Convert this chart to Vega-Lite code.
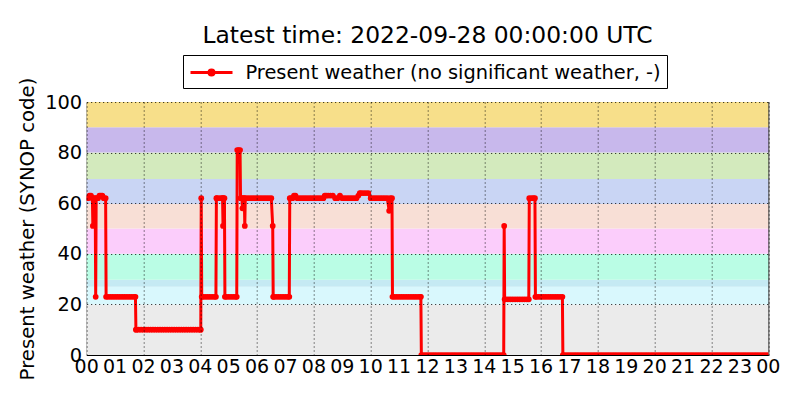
{
  "$schema": "https://vega.github.io/schema/vega-lite/v6.json",
  "autosize": {"type": "none"},
  "width": 681.6,
  "height": 253,
  "padding": {"left": 86.7, "top": 102, "right": 31.7, "bottom": 45},
  "background": "white",
  "config": {
    "font": "DejaVu Sans",
    "view": {"stroke": "black", "strokeWidth": 1},
    "axis": {"labelOverlap": false, "labelFlush": false, "labelBound": false}
  },
  "title": {
    "text": "Latest time: 2022-09-28 00:00:00 UTC",
    "font": "DejaVu Sans",
    "fontSize": 23.4,
    "fontWeight": "normal",
    "color": "black",
    "anchor": "middle",
    "offset": 6
  },
  "datasets": {
    "bands": [
      {"lo": 0, "hi": 20, "b": "a"},
      {"lo": 20, "hi": 27, "b": "b"},
      {"lo": 27, "hi": 29.7, "b": "c"},
      {"lo": 29.7, "hi": 40, "b": "d"},
      {"lo": 40, "hi": 50, "b": "e"},
      {"lo": 50, "hi": 59.7, "b": "f"},
      {"lo": 59.7, "hi": 69.6, "b": "g"},
      {"lo": 69.6, "hi": 80, "b": "h"},
      {"lo": 80, "hi": 90, "b": "i"},
      {"lo": 90, "hi": 100, "b": "j"}
    ],
    "hours": [
      {"t":0,"lab":"00"},{"t":60,"lab":"01"},{"t":120,"lab":"02"},{"t":180,"lab":"03"},{"t":240,"lab":"04"},{"t":300,"lab":"05"},{"t":360,"lab":"06"},{"t":420,"lab":"07"},
      {"t":480,"lab":"08"},{"t":540,"lab":"09"},{"t":600,"lab":"10"},{"t":660,"lab":"11"},{"t":720,"lab":"12"},{"t":780,"lab":"13"},{"t":840,"lab":"14"},{"t":900,"lab":"15"},
      {"t":960,"lab":"16"},{"t":1020,"lab":"17"},{"t":1080,"lab":"18"},{"t":1140,"lab":"19"},{"t":1200,"lab":"20"},{"t":1260,"lab":"21"},{"t":1320,"lab":"22"},{"t":1380,"lab":"23"},
      {"t":1440,"lab":"00"}
    ],
    "obs": [
      {"t":0,"v":62},{"t":3,"v":62},{"t":6,"v":63},{"t":9,"v":63},{"t":12,"v":62},{"t":13,"v":51},{"t":14,"v":62},{"t":18,"v":62},{"t":19,"v":23},{"t":20,"v":62},
      {"t":24,"v":62},{"t":27,"v":63},{"t":30,"v":63},{"t":33,"v":63},{"t":36,"v":62},{"t":40,"v":62},{"t":41,"v":23},{"t":45,"v":23},{"t":50,"v":23},{"t":55,"v":23},
      {"t":60,"v":23},{"t":65,"v":23},{"t":70,"v":23},{"t":75,"v":23},{"t":80,"v":23},{"t":85,"v":23},{"t":90,"v":23},{"t":95,"v":23},{"t":100,"v":23},{"t":103,"v":23},
      {"t":104,"v":10},{"t":105,"v":10},{"t":110,"v":10},{"t":115,"v":10},{"t":120,"v":10},{"t":125,"v":10},{"t":130,"v":10},{"t":135,"v":10},{"t":140,"v":10},{"t":145,"v":10},
      {"t":150,"v":10},{"t":155,"v":10},{"t":160,"v":10},{"t":165,"v":10},{"t":170,"v":10},{"t":175,"v":10},{"t":180,"v":10},{"t":185,"v":10},{"t":190,"v":10},{"t":195,"v":10},
      {"t":200,"v":10},{"t":205,"v":10},{"t":210,"v":10},{"t":215,"v":10},{"t":220,"v":10},{"t":225,"v":10},{"t":230,"v":10},{"t":235,"v":10},{"t":240,"v":10},{"t":241,"v":10},
      {"t":242,"v":62},{"t":243,"v":23},{"t":245,"v":23},{"t":250,"v":23},{"t":255,"v":23},{"t":260,"v":23},{"t":265,"v":23},{"t":270,"v":23},{"t":273,"v":23},{"t":274,"v":62},
      {"t":275,"v":62},{"t":280,"v":62},{"t":285,"v":62},{"t":287,"v":62},{"t":288,"v":51},{"t":289,"v":62},{"t":291,"v":62},{"t":292,"v":23},{"t":295,"v":23},{"t":300,"v":23},
      {"t":305,"v":23},{"t":310,"v":23},{"t":315,"v":23},{"t":317,"v":23},{"t":318,"v":81},{"t":321,"v":81},{"t":324,"v":81},{"t":325,"v":62},{"t":328,"v":62},{"t":329,"v":58},
      {"t":330,"v":62},{"t":333,"v":62},{"t":334,"v":51},{"t":335,"v":62},{"t":340,"v":62},{"t":345,"v":62},{"t":350,"v":62},{"t":355,"v":62},{"t":360,"v":62},{"t":365,"v":62},
      {"t":370,"v":62},{"t":375,"v":62},{"t":380,"v":62},{"t":385,"v":62},{"t":390,"v":62},{"t":393,"v":51},{"t":394,"v":23},{"t":395,"v":23},{"t":400,"v":23},{"t":405,"v":23},
      {"t":410,"v":23},{"t":415,"v":23},{"t":420,"v":23},{"t":425,"v":23},{"t":428,"v":23},{"t":429,"v":62},{"t":432,"v":62},{"t":435,"v":62},{"t":438,"v":63},{"t":441,"v":63},
      {"t":445,"v":62},{"t":450,"v":62},{"t":455,"v":62},{"t":460,"v":62},{"t":465,"v":62},{"t":470,"v":62},{"t":475,"v":62},{"t":480,"v":62},{"t":485,"v":62},{"t":490,"v":62},
      {"t":495,"v":62},{"t":500,"v":62},{"t":503,"v":63},{"t":506,"v":63},{"t":510,"v":63},{"t":515,"v":63},{"t":520,"v":63},{"t":525,"v":62},{"t":530,"v":62},{"t":535,"v":63},
      {"t":540,"v":62},{"t":545,"v":62},{"t":550,"v":62},{"t":555,"v":62},{"t":560,"v":62},{"t":565,"v":62},{"t":570,"v":62},{"t":574,"v":63},{"t":577,"v":64},{"t":580,"v":64},
      {"t":585,"v":64},{"t":590,"v":64},{"t":595,"v":64},{"t":600,"v":62},{"t":605,"v":62},{"t":610,"v":62},{"t":615,"v":62},{"t":620,"v":62},{"t":625,"v":62},{"t":630,"v":62},
      {"t":635,"v":62},{"t":639,"v":57},{"t":641,"v":62},{"t":645,"v":62},{"t":646,"v":23},{"t":650,"v":23},{"t":655,"v":23},{"t":660,"v":23},{"t":665,"v":23},{"t":670,"v":23},
      {"t":675,"v":23},{"t":680,"v":23},{"t":685,"v":23},{"t":690,"v":23},{"t":695,"v":23},{"t":700,"v":23},{"t":705,"v":23},{"t":706,"v":23},{"t":707,"v":0},{"t":710,"v":0},
      {"t":715,"v":0},{"t":720,"v":0},{"t":725,"v":0},{"t":730,"v":0},{"t":735,"v":0},{"t":740,"v":0},{"t":745,"v":0},{"t":750,"v":0},{"t":755,"v":0},{"t":760,"v":0},
      {"t":765,"v":0},{"t":770,"v":0},{"t":775,"v":0},{"t":780,"v":0},{"t":785,"v":0},{"t":790,"v":0},{"t":795,"v":0},{"t":800,"v":0},{"t":805,"v":0},{"t":810,"v":0},
      {"t":815,"v":0},{"t":820,"v":0},{"t":825,"v":0},{"t":830,"v":0},{"t":835,"v":0},{"t":840,"v":0},{"t":845,"v":0},{"t":850,"v":0},{"t":855,"v":0},{"t":860,"v":0},
      {"t":865,"v":0},{"t":870,"v":0},{"t":875,"v":0},{"t":880,"v":0},{"t":881,"v":0},{"t":882,"v":51},{"t":883,"v":22},{"t":885,"v":22},{"t":890,"v":22},{"t":895,"v":22},
      {"t":900,"v":22},{"t":905,"v":22},{"t":910,"v":22},{"t":915,"v":22},{"t":920,"v":22},{"t":925,"v":22},{"t":930,"v":22},{"t":934,"v":22},{"t":935,"v":62},{"t":940,"v":62},
      {"t":944,"v":62},{"t":947,"v":62},{"t":948,"v":23},{"t":950,"v":23},{"t":955,"v":23},{"t":960,"v":23},{"t":965,"v":23},{"t":970,"v":23},{"t":975,"v":23},{"t":980,"v":23},
      {"t":985,"v":23},{"t":990,"v":23},{"t":995,"v":23},{"t":1000,"v":23},{"t":1005,"v":23},{"t":1006,"v":0},{"t":1010,"v":0},{"t":1015,"v":0},{"t":1020,"v":0},{"t":1025,"v":0},
      {"t":1030,"v":0},{"t":1035,"v":0},{"t":1040,"v":0},{"t":1045,"v":0},{"t":1050,"v":0},{"t":1055,"v":0},{"t":1060,"v":0},{"t":1065,"v":0},{"t":1070,"v":0},{"t":1075,"v":0},
      {"t":1080,"v":0},{"t":1085,"v":0},{"t":1090,"v":0},{"t":1095,"v":0},{"t":1100,"v":0},{"t":1105,"v":0},{"t":1110,"v":0},{"t":1115,"v":0},{"t":1120,"v":0},{"t":1125,"v":0},
      {"t":1130,"v":0},{"t":1135,"v":0},{"t":1140,"v":0},{"t":1145,"v":0},{"t":1150,"v":0},{"t":1155,"v":0},{"t":1160,"v":0},{"t":1165,"v":0},{"t":1170,"v":0},{"t":1175,"v":0},
      {"t":1180,"v":0},{"t":1185,"v":0},{"t":1190,"v":0},{"t":1195,"v":0},{"t":1200,"v":0},{"t":1205,"v":0},{"t":1210,"v":0},{"t":1215,"v":0},{"t":1220,"v":0},{"t":1225,"v":0},
      {"t":1230,"v":0},{"t":1235,"v":0},{"t":1240,"v":0},{"t":1245,"v":0},{"t":1250,"v":0},{"t":1255,"v":0},{"t":1260,"v":0},{"t":1265,"v":0},{"t":1270,"v":0},{"t":1275,"v":0},
      {"t":1280,"v":0},{"t":1285,"v":0},{"t":1290,"v":0},{"t":1295,"v":0},{"t":1300,"v":0},{"t":1305,"v":0},{"t":1310,"v":0},{"t":1315,"v":0},{"t":1320,"v":0},{"t":1325,"v":0},
      {"t":1330,"v":0},{"t":1335,"v":0},{"t":1340,"v":0},{"t":1345,"v":0},{"t":1350,"v":0},{"t":1355,"v":0},{"t":1360,"v":0},{"t":1365,"v":0},{"t":1370,"v":0},{"t":1375,"v":0},
      {"t":1380,"v":0},{"t":1385,"v":0},{"t":1390,"v":0},{"t":1395,"v":0},{"t":1400,"v":0},{"t":1405,"v":0},{"t":1410,"v":0},{"t":1415,"v":0},{"t":1420,"v":0},{"t":1425,"v":0},
      {"t":1430,"v":0},{"t":1435,"v":0},{"t":1440,"v":0}
    ]
  },
  "layer": [
    {
      "data": {"name": "bands"},
      "mark": {"type": "rect", "strokeWidth": 0},
      "encoding": {
        "x": {
          "datum": 0, "type": "quantitative",
          "scale": {"domain": [0, 1440], "nice": false, "zero": false},
          "axis": {
            "values": [0,60,120,180,240,300,360,420,480,540,600,660,720,780,840,900,960,1020,1080,1140,1200,1260,1320,1380,1440],
            "labels": false,
            "title": null,
            "domain": false,
            "ticks": false,
            "grid": true,
            "gridColor": "black",
            "gridDash": [1, 3],
            "gridWidth": 1,
            "gridOpacity": 0.9,
            "zindex": 1
          }
        },
        "x2": {"datum": 1440},
        "y": {
          "field": "lo", "type": "quantitative",
          "scale": {"domain": [0, 100], "nice": false},
          "axis": {
            "values": [0,20,40,60,80,100],
            "title": "Present weather (SYNOP code)",
            "titleFont": "DejaVu Sans",
            "titleFontSize": 19.7,
            "titleFontWeight": "normal",
            "titleColor": "black",
            "titlePadding": 7,
            "domain": false,
            "ticks": false,
            "grid": true,
            "gridColor": "black",
            "gridDash": [1, 3],
            "gridWidth": 1,
            "gridOpacity": 0.9,
            "labelFont": "DejaVu Sans",
            "labelFontSize": 19.4,
            "labelColor": "black",
            "labelPadding": 5,
            "labelOverlap": false,
            "labelFlush": false,
            "zindex": 1
          }
        },
        "y2": {"field": "hi"},
        "fill": {
          "field": "b", "type": "nominal",
          "scale": {
            "domain": ["a","b","c","d","e","f","g","h","i","j"],
            "range": ["#ebebeb","#d9f8fd","#c5eaf3","#bafde5","#fbcdfb","#f8dfd6","#c9d5f4","#d3eabd","#c8b8ec","#f7df8a"]
          },
          "legend": null
        }
      }
    },
    {
      "data": {"name": "obs"},
      "mark": {"type": "line", "strokeWidth": 3, "clip": true, "interpolate": "linear"},
      "encoding": {
        "x": {"field": "t", "type": "quantitative", "title": null},
        "y": {"field": "v", "type": "quantitative", "title": "Present weather (SYNOP code)"},
        "stroke": {
          "datum": "Present weather (no significant weather, -)",
          "type": "nominal",
          "scale": {"range": ["#ff0000"]},
          "legend": {
            "title": null,
            "orient": "none",
            "legendX": 96.3,
            "legendY": -47,
            "direction": "vertical",
            "padding": 6,
            "strokeColor": "black",
            "fillColor": "white",
            "cornerRadius": 0,
            "symbolType": "M-1,0L3.2,0M0.85,0a0.25,0.25 0 1,0 0.5,0a0.25,0.25 0 1,0 -0.5,0",
            "symbolSize": 400,
            "symbolStrokeWidth": 3,
            "symbolStrokeColor": "#ff0000",
            "symbolFillColor": "#ff0000",
            "labelFont": "DejaVu Sans",
            "labelFontSize": 19.4,
            "labelColor": "black",
            "labelOffset": 33.5,
            "labelLimit": 700
          }
        }
      }
    },
    {
      "data": {"name": "obs"},
      "mark": {"type": "point", "filled": true, "size": 33, "color": "#ff0000", "opacity": 1, "clip": true},
      "encoding": {
        "x": {"field": "t", "type": "quantitative"},
        "y": {"field": "v", "type": "quantitative"}
      }
    },
    {
      "data": {"name": "hours"},
      "mark": {"type": "text", "baseline": "top", "align": "center", "dy": 3, "font": "DejaVu Sans", "fontSize": 19, "color": "black", "clip": false},
      "encoding": {
        "x": {"field": "t", "type": "quantitative"},
        "y": {"datum": 0, "type": "quantitative"},
        "text": {"field": "lab", "type": "nominal"}
      }
    }
  ]
}
